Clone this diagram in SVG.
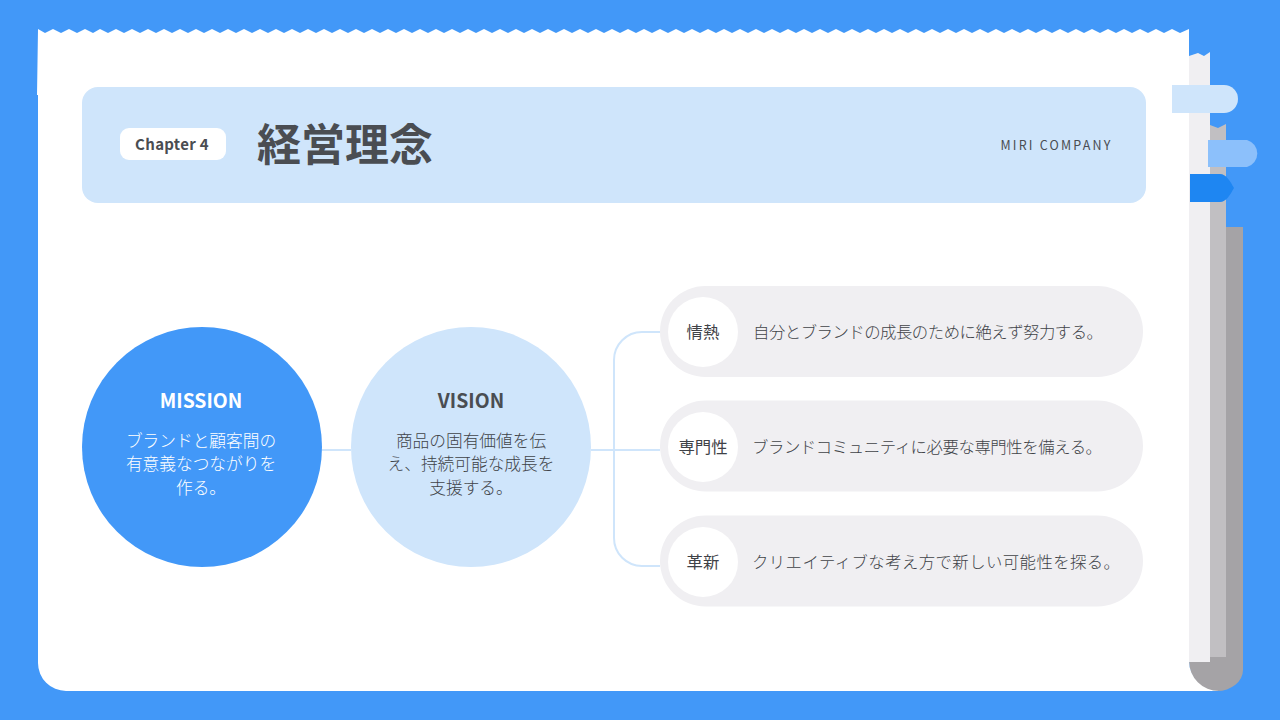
<svg xmlns="http://www.w3.org/2000/svg" width="1280" height="720" viewBox="0 0 1280 720">
<style>
text{font-family:"Noto Sans CJK JP","Noto Sans",sans-serif;fill:#4a4d52}
.m{text-anchor:middle}
.b{font-weight:700}
.d{font-size:16.4px;font-weight:300;fill:#404348}
.k{font-size:16.4px;font-weight:400;text-anchor:middle;fill:#3f4247}
.c{font-size:16.7px;font-weight:300;text-anchor:middle;fill:#404348}
.w{fill:#fff}
.pill{fill:#f0eff2}
.conn{fill:none;stroke:#cfe5fb;stroke-width:2}
</style>
<rect width="1280" height="720" fill="#4298f8"/>
<g id="paper-back">
<path d="M1210 227H1243V670A26 21 0 0 1 1217 691H1215A26 30 0 0 1 1189 661V640H1210Z" fill="#a5a3a6"/>
<path d="M1210 125L1218 128L1226 124V657H1210Z" fill="#c1bfc2"/>
<path d="M1189 56L1198 53L1204 56L1210 52V662H1189Z" fill="#f0eff2"/>
</g>
<g id="paper">
<path d="M38 29L45 33L53 29L61 33L69 29L77 33L85 29L93 33L100 29L108 33L116 29L124 33L132 29L140 33L148 29L156 33L164 29L172 33L180 29L188 33L196 29L204 33L212 29L220 33L228 29L236 33L244 29L252 33L260 29L268 33L276 29L284 33L292 29L300 33L308 29L316 33L324 29L332 33L340 29L348 33L356 29L364 33L372 29L380 33L388 29L396 33L404 29L412 33L420 29L428 33L436 29L444 33L452 29L460 33L468 29L476 33L484 29L492 33L500 29L508 33L516 29L524 33L532 29L540 33L548 29L556 33L564 29L572 33L580 29L588 33L596 29L604 33L612 29L620 33L628 29L636 33L644 29L652 33L660 29L668 33L676 29L684 33L692 29L700 33L708 29L716 33L724 29L732 33L740 29L748 33L756 29L764 33L772 29L780 33L788 29L796 33L804 29L812 33L820 29L828 33L836 29L844 33L852 29L860 33L868 29L876 33L884 29L892 33L900 29L908 33L916 29L924 33L932 29L940 33L948 29L956 33L964 29L972 33L980 29L988 33L996 29L1004 33L1012 29L1020 33L1028 29L1036 33L1044 29L1052 33L1060 29L1068 33L1076 29L1084 33L1092 29L1100 33L1108 29L1116 33L1124 29L1132 33L1140 29L1148 33L1156 29L1164 33L1172 29L1180 33L1189 29V661A30 30 0 0 0 1219 691H66A28 28 0 0 1 38 663V95H37Z" fill="#fff"/>
</g>
<g id="tabs">
<path d="M1172 85H1224A14 14 0 0 1 1224 113H1172Z" fill="#cfe5fb"/>
<path d="M1208 140H1247A14 14 0 0 1 1247 167H1208Z" transform="translate(0 0)" fill="#8cc0fb"/>
<path d="M1190 174H1220C1226 174 1230 181 1234 188C1230 195 1226 202 1220 202H1190Z" fill="#1e86f2"/>
</g>
<g id="header">
<rect x="82" y="87" width="1064" height="116" rx="16" fill="#cfe5fb"/>
<rect x="120" y="128" width="106" height="32" rx="9" fill="#fff"/>
<text x="172" y="150" class="m b" font-size="15" letter-spacing=".3">Chapter 4</text>
<text x="345" y="161" class="m b" font-size="44">経営理念</text>
<text x="1056.5" y="149.500" class="m" font-size="12.5" letter-spacing="2.2">MIRI COMPANY</text>
</g>
<g id="connectors">
<path class="conn" d="M322 450H351"/>
<path class="conn" d="M591 450H660"/>
<path class="conn" d="M660 332H642A28 28 0 0 0 614 360V538A28 28 0 0 0 642 566H660"/>
</g>
<g id="mission">
<circle cx="202" cy="447" r="120" fill="#4298f8"/>
<text x="201" y="407.500" class="m b" font-size="19.4" style="fill:#fff">MISSION</text>
<text x="201" y="447" class="c w">ブランドと顧客間の</text>
<text x="201" y="470" class="c w">有意義なつながりを</text>
<text x="201" y="494" class="c w">作る。</text>
</g>
<g id="vision">
<circle cx="471" cy="447" r="120" fill="#cfe5fb"/>
<text x="471" y="407.500" class="m b" font-size="19.4">VISION</text>
<text x="471" y="447" class="c">商品の固有価値を伝</text>
<text x="471" y="470" class="c">え、持続可能な成長を</text>
<text x="471" y="494" class="c">支援する。</text>
</g>
<g id="item1">
<rect class="pill" x="660" y="286" width="483" height="91" rx="45.500"/>
<circle cx="703" cy="332" r="35" fill="#fff"/>
<text x="703" y="337.500" class="k">情熱</text>
<text x="753" y="337.500" class="d" textLength="350">自分とブランドの成長のために絶えず努力する。</text>
</g>
<g id="item2">
<rect class="pill" x="660" y="400.500" width="483" height="91" rx="45.500"/>
<circle cx="703" cy="447" r="35" fill="#fff"/>
<text x="703" y="452.500" class="k">専門性</text>
<text x="752" y="452.500" class="d" textLength="350">ブランドコミュニティに必要な専門性を備える。</text>
</g>
<g id="item3">
<rect class="pill" x="660" y="515.500" width="483" height="91" rx="45.500"/>
<circle cx="703" cy="562" r="35" fill="#fff"/>
<text x="703" y="567.500" class="k">革新</text>
<text x="752" y="567.500" class="d" textLength="368">クリエイティブな考え方で新しい可能性を探る。</text>
</g>
</svg>
